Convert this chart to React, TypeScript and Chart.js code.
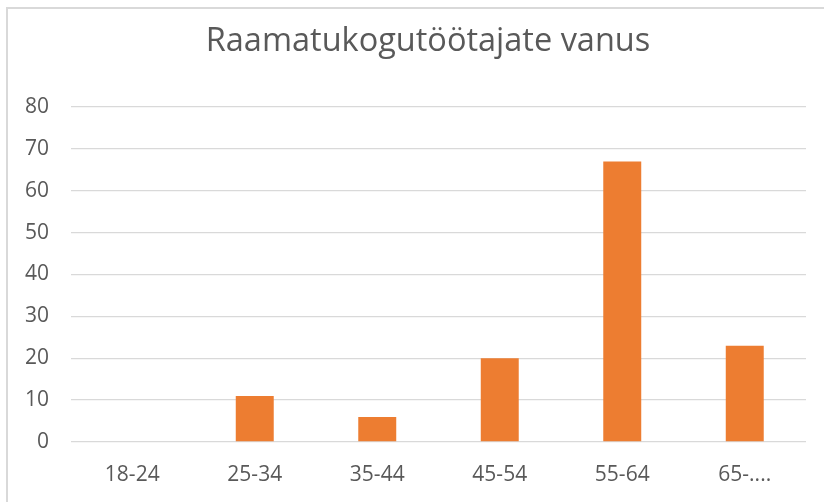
import React, { useEffect, useRef } from "react";
import { Chart, registerables } from "chart.js";

Chart.register(...registerables);

const TITLE = "Raamatukogutöötajate vanus";
const categories = ["18-24", "25-34", "35-44", "45-54", "55-64", "65-...."];
const values = [0, 11, 6, 20, 67, 23];
const yMin = 0;
const yMax = 80;
const yStep = 10;

const FONT = "'Open Sans', 'Noto Sans', sans-serif";

const titlePlugin = {
  id: "excelTitle",
  afterDraw(chart: any) {
    const c = chart.ctx;
    c.save();
    c.font = `normal 32.5px ${FONT}`;
    c.fillStyle = "#595959";
    c.textAlign = "center";
    c.textBaseline = "alphabetic";
    c.fillText(TITLE, 428, 51);
    c.restore();
  },
};

export default function App() {
  const ref = useRef<HTMLCanvasElement | null>(null);

  useEffect(() => {
    document.body.style.margin = "0";
    const ctx = ref.current;
    if (!ctx) return;
    const chart = new Chart(ctx, {
      type: "bar",
      data: {
        labels: categories,
        datasets: [
          {
            data: values,
            backgroundColor: "#ed7d31",
            borderWidth: 0,
            barPercentage: 1,
            categoryPercentage: 0.31,
          },
        ],
      },
      plugins: [titlePlugin],
      options: {
        animation: false,
        responsive: false,
        layout: { padding: { left: 0, right: 18, top: 107, bottom: 17 } },
        plugins: {
          legend: { display: false },
          tooltip: { enabled: false },
          title: { display: false },
        },
        scales: {
          x: {
            grid: { display: false, drawTicks: false },
            border: { display: false },
            ticks: {
              color: "#595959",
              font: { family: FONT, size: 21, lineHeight: 1.2 },
              padding: 20,
              maxRotation: 0,
              autoSkip: false,
            },
            afterFit: (scale: any) => {
              scale.height = 43;
            },
          },
          y: {
            min: yMin,
            max: yMax,
            grid: { color: "#d9d9d9", lineWidth: 1.3, drawTicks: false },
            border: { display: false },
            ticks: {
              stepSize: yStep,
              color: "#595959",
              font: { family: FONT, size: 21, lineHeight: 1.2 },
              padding: 22,
            },
            afterFit: (scale: any) => {
              scale.width = 71;
            },
          },
        },
      },
    });
    return () => chart.destroy();
  }, []);

  return (
    <div
      style={{
        position: "fixed",
        left: 0,
        top: 0,
        width: 824,
        height: 502,
        overflow: "hidden",
        background: "#fff",
      }}
    >
      <div
        style={{
          position: "absolute",
          left: 6,
          top: 7,
          width: 900,
          height: 600,
          borderLeft: "2px solid #d9d9d9",
          borderTop: "2px solid #d9d9d9",
        }}
      />
      <canvas
        ref={ref}
        width={824}
        height={502}
        style={{ position: "absolute", left: 0, top: 0 }}
      />
    </div>
  );
}
